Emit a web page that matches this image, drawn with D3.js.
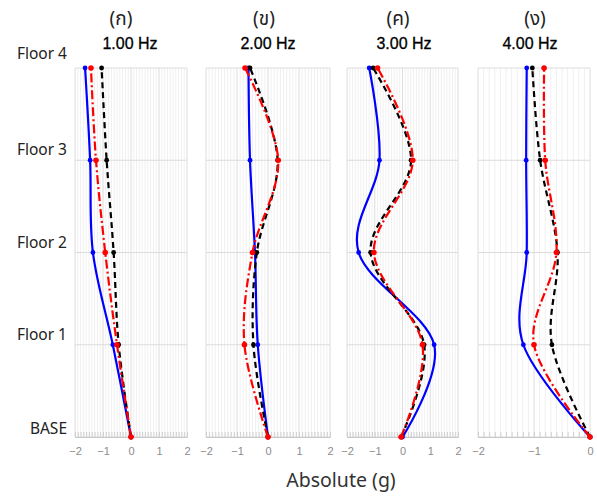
<!DOCTYPE html>
<html><head><meta charset="utf-8">
<script src="https://cdn.jsdelivr.net/npm/d3@7"></script>
<style>body{margin:0;background:#fff}svg{display:block}</style>
</head><body>
<svg id="c" width="597" height="497"></svg>
<script>
// ---- data ----
const levels = ["BASE", "Floor 1", "Floor 2", "Floor 3", "Floor 4"];
const panelLabels = ["(ก)", "(ข)", "(ค)", "(ง)"];
const panelTitles = ["1.00 Hz", "2.00 Hz", "3.00 Hz", "4.00 Hz"];
const xDomains = [[-2, 2], [-2, 2], [-2, 2], [-2, 0]];
const xTicks = [[-2, -1, 0, 1, 2], [-2, -1, 0, 1, 2], [-2, -1, 0, 1, 2], [-2, -1, 0]];
// values ordered BASE, Floor 1..4
const blueSeries = [
  [0, -0.65, -1.36, -1.46, -1.64],
  [0, -0.33, -0.42, -0.58, -0.63],
  [0, 1.14, -1.58, -0.83, -1.20],
  [0, -1.19, -1.13, -1.14, -1.13]
];
const redSeries = [
  [0, -0.50, -0.92, -1.25, -1.43],
  [0, -0.76, -0.50, 0.33, -0.74],
  [-0.05, 0.72, -1.03, 0.37, -0.90],
  [0, -1.00, -0.60, -0.80, -0.82]
];
const blackSeries = [
  [0, -0.44, -0.62, -0.87, -1.05],
  [0, -0.47, -0.36, 0.31, -0.58],
  [-0.05, 0.78, -1.15, 0.31, -1.06],
  [0, -0.68, -0.58, -0.89, -1.03]
];
const xAxisTitle = "Absolute (g)";

// ---- layout ----
const panelX = [[75, 187], [206, 330], [347, 458], [478, 590]];
const topY = 68, botY = 437;
const labelCenters = [121, 264, 398, 535];
const titleCenters = [130, 268, 404, 530];

const svg = d3.select("#c");
const y = d3.scalePoint().domain(levels.slice().reverse()).range([topY, botY]);
const thaiFont = "'Noto Sans Thai','Noto Sans','Noto Sans CJK SC',sans-serif";

svg.append("g").selectAll("text").data(levels).join("text")
  .attr("x", 67).attr("y", d => y(d) + (d === "BASE" ? -3 : d === "Floor 4" ? -9 : -5))
  .attr("text-anchor", "end")
  .attr("font-family", thaiFont).attr("font-size", 15.5).attr("fill", "#222")
  .text(d => d);

const seriesDefs = [
  {data: blueSeries, color: "#0000ff", dash: null, r: 2.4},
  {data: blackSeries, color: "#000000", dash: "6,4", r: 2.4},
  {data: redSeries, color: "#ff0000", dash: "9,3,2,3", r: 2.8}
];

xDomains.forEach((dom, p) => {
  const x = d3.scaleLinear().domain(dom).range(panelX[p]);
  const g = svg.append("g");
  const minor = d3.range(Math.round(dom[0] * 10), Math.round(dom[1] * 10) + 1).map(v => v / 10);
  g.selectAll(".mg").data(minor.filter(v => Math.abs(v - Math.round(v)) > 1e-6)).join("line")
    .attr("x1", d => x(d)).attr("x2", d => x(d)).attr("y1", topY).attr("y2", botY)
    .attr("stroke", "#f0f0f0").attr("stroke-width", 1);
  g.selectAll(".Mg").data(xTicks[p]).join("line")
    .attr("x1", d => x(d)).attr("x2", d => x(d)).attr("y1", topY).attr("y2", botY)
    .attr("stroke", "#dcdcdc").attr("stroke-width", 1);
  g.selectAll(".hg").data(levels).join("line")
    .attr("x1", panelX[p][0]).attr("x2", panelX[p][1]).attr("y1", d => y(d)).attr("y2", d => y(d))
    .attr("stroke", "#dcdcdc").attr("stroke-width", 1);
  const axis = d3.axisBottom(x).tickValues(minor).tickSize(-5).tickFormat("");
  const ag = g.append("g").attr("transform", `translate(0,${botY})`).call(axis);
  ag.select(".domain").attr("stroke", "#c8c8c8");
  ag.selectAll(".tick line").attr("stroke", "#cfcfcf");
  const lab = d3.axisBottom(x).tickValues(xTicks[p]).tickSize(0).tickPadding(0).tickFormat(d3.format("d"));
  const lg = g.append("g").attr("transform", `translate(0,${botY + 10})`).call(lab);
  lg.select(".domain").remove();
  lg.selectAll("text").attr("fill", "#8c8c8c").attr("font-size", 11)
    .attr("font-family", "'Liberation Sans',Arial,sans-serif").attr("dy", "0.71em");

  seriesDefs.forEach(s => {
    const vals = s.data[p];
    const pts = vals.map((v, i) => [v, levels[i]]);
    const line = d3.line().x(d => x(d[0])).y(d => y(d[1])).curve(d3.curveCardinal.tension(0));
    g.append("path").attr("d", line(pts)).attr("fill", "none")
      .attr("stroke", s.color).attr("stroke-width", 2.2)
      .attr("stroke-dasharray", s.dash);
    g.selectAll(null).data(pts).join("circle")
      .attr("cx", d => x(d[0])).attr("cy", d => y(d[1])).attr("r", s.r)
      .attr("fill", s.color);
  });

  svg.append("text").attr("x", labelCenters[p]).attr("y", 25).attr("text-anchor", "middle")
    .attr("font-family", thaiFont).attr("font-size", 19).attr("fill", "#222").text(panelLabels[p]);
  svg.append("text").attr("x", titleCenters[p]).attr("y", 49).attr("text-anchor", "middle")
    .attr("font-family", "'Liberation Sans',Arial,sans-serif").attr("font-size", 16)
    .attr("fill", "#000").attr("stroke", "#000").attr("stroke-width", 0.3)
    .text(panelTitles[p]);
});

svg.append("text").attr("x", 341).attr("y", 487).attr("text-anchor", "middle")
  .attr("font-family", thaiFont).attr("font-size", 19.5).attr("fill", "#333").text(xAxisTitle);
</script>
</body></html>
